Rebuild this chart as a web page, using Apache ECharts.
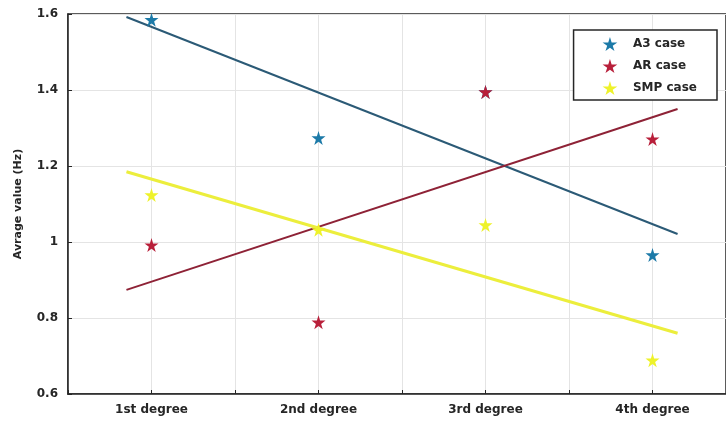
<!DOCTYPE html>
<html>
<head>
<meta charset="utf-8">
<script src="https://cdn.jsdelivr.net/npm/echarts@6/dist/echarts.min.js"></script>
<style>
  html, body { margin: 0; padding: 0; background: #fff; }
  #chart { width: 726px; height: 425px; }
</style>
</head>
<body>
<div id="chart"></div>
<script>
// Degree categories shown on the x axis (positions 1..4)
const degrees = ['1st degree', '2nd degree', '3rd degree', '4th degree'];
const degreePos = [1, 2, 3, 4];

// Average values (Hz) per case
const a3Values = [1.585, 1.274, 1.395, 0.966];
const arValues = [0.992, 0.789, 1.395, 1.271];
const smpValues = [1.124, 1.032, 1.045, 0.689];

// Linear trend lines: [x, value] end points
const a3Trend = [[0.85, 1.592], [4.15, 1.021]];
const arTrend = [[0.85, 0.874], [4.15, 1.350]];
const smpTrend = [[0.85, 1.185], [4.15, 0.760]];

// Y axis ticks
const yTicks = [0.6, 0.8, 1, 1.2, 1.4, 1.6];

const STAR = 'path://M50,0 L61,35 L98,35 L68,57 L79,91 L50,70 L21,91 L32,57 L2,35 L39,35 Z';

const colors = {
  a3: { mark: '#1c7aa8', line: '#2b5a76' },
  ar: { mark: '#b81f3a', line: '#8e2236' },
  smp: { mark: '#eef22a', line: '#ecee3c' }
};

function pts(values) {
  return degreePos.map((x, i) => [x, values[i]]);
}

function scatter(name, values, c) {
  return {
    name: name,
    type: 'scatter',
    symbol: STAR,
    symbolSize: 14,
    itemStyle: { color: c.mark, opacity: 1 },
    data: pts(values),
    z: 5
  };
}

function trend(name, data, c, width) {
  return {
    name: name + ' fit',
    type: 'line',
    showSymbol: false,
    symbol: 'none',
    lineStyle: { color: c.line, width: width },
    data: data,
    silent: true,
    z: 3
  };
}

const labelFont = { fontFamily: 'DejaVu Sans, sans-serif', fontSize: 12, color: '#262626', fontWeight: 'bold' };

const chart = echarts.init(document.getElementById('chart'), null, { renderer: 'canvas' });
chart.setOption({
  animation: false,
  backgroundColor: '#ffffff',
  grid: {
    left: 68, right: 0, top: 14, bottom: 31,
    show: true, borderColor: '#262626', borderWidth: 1.5, backgroundColor: 'transparent'
  },
  legend: {
    right: 9, top: 30,
    orient: 'vertical',
    data: ['A3 case', 'AR case', 'SMP case'],
    backgroundColor: '#fff',
    borderColor: '#262626',
    borderWidth: 1.5,
    padding: [7, 20, 5, 29],
    itemGap: 8,
    itemWidth: 36,
    itemHeight: 14,
    textStyle: Object.assign({}, labelFont, { fontSize: 12 })
  },
  xAxis: {
    type: 'value',
    min: 0.5, max: 4.44, interval: 0.5,
    axisLine: { show: true, lineStyle: { color: '#262626', width: 1.5 } },
    axisTick: { show: true, inside: true, length: 4, lineStyle: { color: '#262626' } },
    splitLine: { show: true, lineStyle: { color: '#e4e4e4', width: 1 } },
    axisLabel: Object.assign({}, labelFont, {
      margin: 10,
      showMaxLabel: false,
      formatter: v => {
        const i = degreePos.indexOf(v);
        return i >= 0 ? degrees[i] : '';
      }
    })
  },
  yAxis: {
    type: 'value',
    min: yTicks[0], max: yTicks[yTicks.length - 1], interval: 0.2,
    name: 'Avrage value (Hz)',
    nameLocation: 'middle',
    nameGap: 44,
    nameTextStyle: Object.assign({}, labelFont, { fontSize: 11 }),
    axisLine: { show: true, lineStyle: { color: '#262626', width: 1.5 } },
    axisTick: { show: true, inside: true, length: 4, lineStyle: { color: '#262626' } },
    splitLine: { show: true, lineStyle: { color: '#e4e4e4', width: 1 } },
    axisLabel: Object.assign({}, labelFont, {
      margin: 10,
      formatter: v => {
        const r = Math.round(v * 10) / 10;
        return yTicks.some(t => Math.abs(t - r) < 1e-9) ? String(r) : '';
      }
    })
  },
  series: [
    trend('A3 case', a3Trend, colors.a3, 2),
    trend('AR case', arTrend, colors.ar, 2),
    trend('SMP case', smpTrend, colors.smp, 3),
    scatter('A3 case', a3Values, colors.a3),
    scatter('AR case', arValues, colors.ar),
    scatter('SMP case', smpValues, colors.smp)
  ]
});
</script>
</body>
</html>
